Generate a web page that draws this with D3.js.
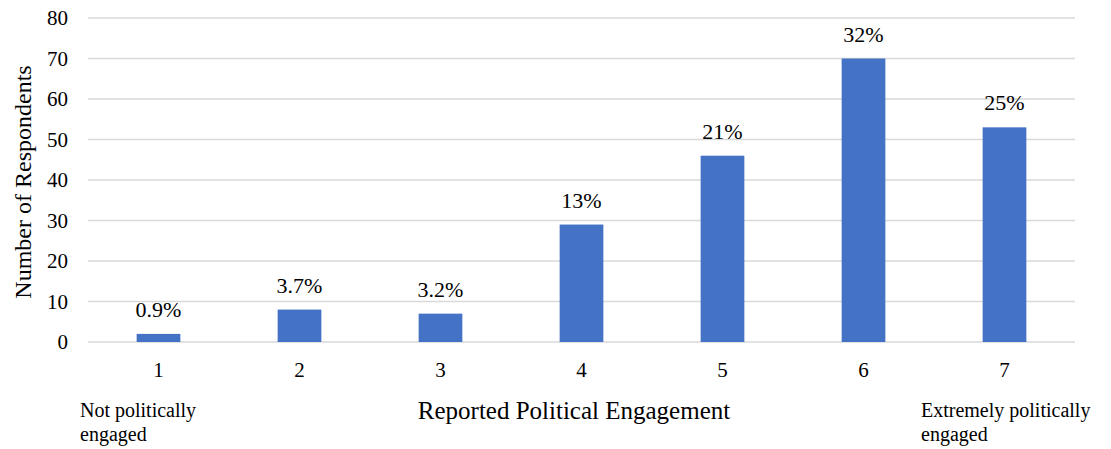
<!DOCTYPE html>
<html>
<head>
<meta charset="utf-8">
<script src="https://cdn.jsdelivr.net/npm/d3@7"></script>
<style>
  html, body { margin: 0; padding: 0; background: #fff; }
  svg { display: block; }
  svg text { font-family: "Liberation Serif", "Times New Roman", Times, "DejaVu Serif", serif !important; fill: #000; }
</style>
</head>
<body>
<svg id="chart" width="1111" height="449"></svg>
<script>
// Engagement scale levels (1 = not engaged, 7 = extremely engaged)
const levels = ["1", "2", "3", "4", "5", "6", "7"];
// Respondent counts per level
const counts = [2, 8, 7, 29, 46, 70, 53];
// Share of respondents shown above each bar
const shares = ["0.9%", "3.7%", "3.2%", "13%", "21%", "32%", "25%"];
// Y axis ticks
const yTicks = [0, 10, 20, 30, 40, 50, 60, 70, 80];

const svg = d3.select("#chart");
const margin = { left: 88, right: 36, top: 18, bottom: 107 };
const W = 1111, H = 449;

const x = d3.scaleBand()
  .domain(levels)
  .range([margin.left, W - margin.right])
  .paddingInner(0.69)
  .paddingOuter(0.345);

const y = d3.scaleLinear()
  .domain([0, 80])
  .range([H - margin.bottom, margin.top]);

// Horizontal gridlines
svg.append("g")
  .selectAll("line")
  .data(yTicks)
  .join("line")
  .attr("x1", margin.left)
  .attr("x2", W - margin.right)
  .attr("y1", d => y(d))
  .attr("y2", d => y(d))
  .attr("stroke", "#d9d9d9")
  .attr("stroke-width", 1.3);

// Y axis labels
const yAxis = svg.append("g")
  .attr("transform", `translate(${margin.left - 20},0)`)
  .call(d3.axisLeft(y).tickValues(yTicks).tickSize(0).tickPadding(0))
  .attr("font-family", null)
  .attr("font-size", null);
yAxis.select(".domain").remove();
yAxis.selectAll("text").attr("font-size", 21);

// Bars
svg.append("g")
  .selectAll("rect")
  .data(counts)
  .join("rect")
  .attr("x", (d, i) => x(levels[i]))
  .attr("width", x.bandwidth())
  .attr("y", d => y(d))
  .attr("height", d => y(0) - y(d))
  .attr("fill", "#4472C4");

// Percentage labels above bars
svg.append("g")
  .selectAll("text")
  .data(counts)
  .join("text")
  .attr("x", (d, i) => x(levels[i]) + x.bandwidth() / 2)
  .attr("y", d => y(d) - 17)
  .attr("text-anchor", "middle")
  .attr("font-size", 22)
  .text((d, i) => shares[i]);

// X axis labels
const xAxis = svg.append("g")
  .attr("transform", `translate(0,${y(0)})`)
  .call(d3.axisBottom(x).tickSize(0).tickPadding(20))
  .attr("font-family", null)
  .attr("font-size", null);
xAxis.select(".domain").remove();
xAxis.selectAll("text").attr("font-size", 21);

// Axis titles
svg.append("text")
  .attr("x", 574)
  .attr("y", 419)
  .attr("text-anchor", "middle")
  .attr("font-size", 25)
  .text("Reported Political Engagement");

svg.append("text")
  .attr("transform", "translate(31,182) rotate(-90)")
  .attr("text-anchor", "middle")
  .attr("font-size", 24)
  .text("Number of Respondents");

// Scale endpoint annotations
const notes = [
  { x: 80, lines: ["Not politically", "engaged"] },
  { x: 921, lines: ["Extremely politically", "engaged"] }
];
notes.forEach(n => {
  const t = svg.append("text")
    .attr("x", n.x)
    .attr("y", 417)
    .attr("font-size", 20);
  n.lines.forEach((l, i) => {
    t.append("tspan")
      .attr("x", n.x)
      .attr("dy", i === 0 ? 0 : 24)
      .text(l);
  });
});
</script>
</body>
</html>
